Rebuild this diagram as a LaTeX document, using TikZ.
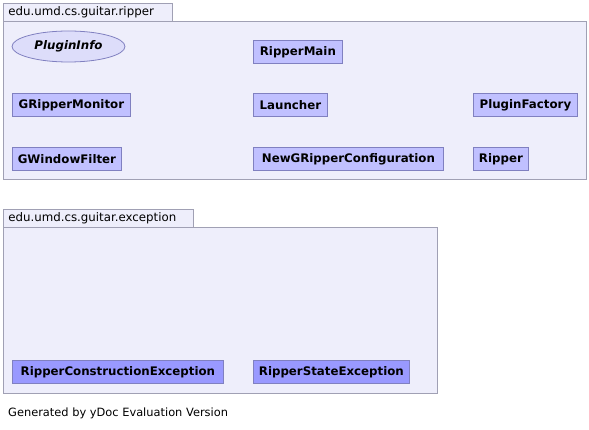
\documentclass[tikz,border=0pt]{standalone}
\usepackage{fontspec}
\setsansfont{DejaVu Sans}
\usetikzlibrary{shapes.geometric}

\definecolor{pkgfill}{HTML}{EEEEFB}
\definecolor{pkgline}{HTML}{A0A0B4}
\definecolor{clsfill}{HTML}{C0C0FF}
\definecolor{clsline}{HTML}{8080C0}
\definecolor{excfill}{HTML}{9999FF}
\definecolor{ifcfill}{HTML}{DDDDFA}

\begin{document}
\begin{tikzpicture}[
  x=1pt, y=-1pt,
  font=\sffamily,
  tab/.style={draw=pkgline, fill=pkgfill, anchor=north west, line width=0.8pt,
    minimum height=18pt, inner xsep=5pt, inner ysep=0pt, text width=#1-10pt, align=left,
    font=\sffamily\fontsize{11.8}{13}\selectfont},
  pkg/.style={draw=pkgline, fill=pkgfill, anchor=north west, line width=0.8pt, inner sep=0pt},
  cls/.style={draw=clsline, fill=clsfill, anchor=north west, line width=0.8pt,
    minimum height=23pt, inner sep=0pt, font=\sffamily\bfseries\fontsize{11.8}{13}\selectfont},
  exc/.style={cls, fill=excfill},
  ifc/.style={ellipse, draw=clsline, fill=ifcfill, line width=0.8pt,
    minimum height=31pt, inner sep=0pt, font=\sffamily\bfseries\itshape\fontsize{11.8}{13}\selectfont},
  note/.style={anchor=west, inner sep=0pt, font=\sffamily\fontsize{11.4}{13}\selectfont}
]
\useasboundingbox[fill=white] (0,0) rectangle (589,430);

% package edu.umd.cs.guitar.ripper
\node[tab=169pt] (ripperTab) at (3,3) {edu.umd.cs.guitar.ripper};
\node[pkg, minimum width=583pt, minimum height=158pt] (ripperPkg) at (3,21) {};

\node[ifc, minimum width=113pt] (pluginInfo) at (68.5,46.5) {PluginInfo};
\node[cls, minimum width=89pt] (ripperMain) at (253,40) {RipperMain};
\node[cls, minimum width=118pt] (gRipperMonitor) at (12,93) {GRipperMonitor};
\node[cls, minimum width=74pt] (launcher) at (253,93) {Launcher};
\node[cls, minimum width=104pt] (pluginFactory) at (473,93) {PluginFactory};
\node[cls, minimum width=109pt] (gWindowFilter) at (12,147) {GWindowFilter};
\node[cls, minimum width=190pt] (newConfig) at (253,147) {NewGRipperConfiguration};
\node[cls, minimum width=55pt] (ripper) at (473,147) {Ripper};

% package edu.umd.cs.guitar.exception
\node[tab=190pt] (exceptionTab) at (3,209) {edu.umd.cs.guitar.exception};
\node[pkg, minimum width=434pt, minimum height=166pt] (exceptionPkg) at (3,227) {};

\node[exc, minimum width=211pt] (constructionExc) at (12,360) {RipperConstructionException};
\node[exc, minimum width=156pt] (stateExc) at (253,360) {RipperStateException};

\node[note] (footer) at (8,413) {Generated by yDoc Evaluation Version};
\end{tikzpicture}
\end{document}
